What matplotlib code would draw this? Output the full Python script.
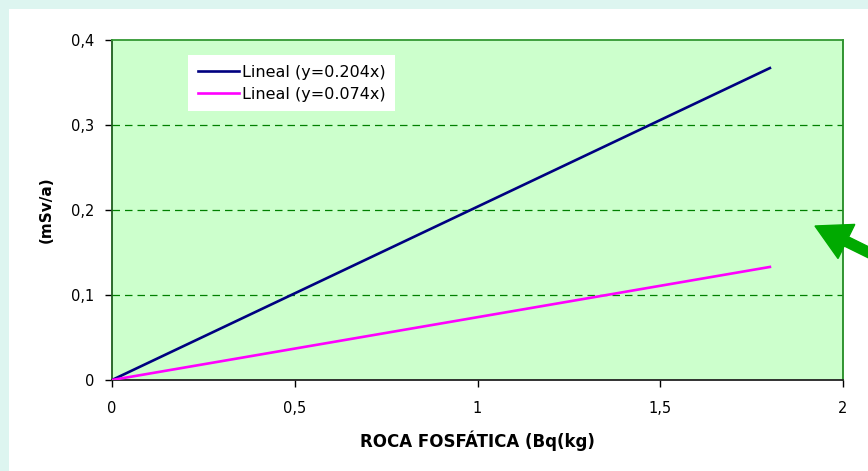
import matplotlib
matplotlib.use("Agg")
import matplotlib.pyplot as plt
from matplotlib.patches import Rectangle, FancyArrow
from matplotlib.ticker import FuncFormatter

plt.rcParams['font.family'] = ['DejaVu Sans']

# data
x_vals = [0, 1.8]
y_alto = [0, 0.367]   # y = 0.204x
y_bajo = [0, 0.133]   # y = 0.074x
etiquetas = ['Lineal (y=0.204x)', 'Lineal (y=0.074x)']
colores = ['#000080', '#FF00FF']

fig = plt.figure(figsize=(8.68, 4.71), dpi=100, facecolor='#DDF5F0')
# white panel behind the chart
fig.add_artist(Rectangle((9, 0), 900, 462, transform=None,
                         facecolor='white', edgecolor='none', zorder=0))

ax = fig.add_axes([112 / 868, 1 - 380 / 471, 731 / 868, 340 / 471])
ax.set_facecolor('#CCFFCC')

ax.plot(x_vals, y_alto, color=colores[0], lw=1.9, label=etiquetas[0], zorder=3)
ax.plot(x_vals, y_bajo, color=colores[1], lw=1.9, label=etiquetas[1], zorder=3)

ax.set_xlim(0, 2)
ax.set_ylim(0, 0.4)
ax.set_xticks([0, 0.5, 1, 1.5, 2])
ax.set_yticks([0, 0.1, 0.2, 0.3, 0.4])
coma = FuncFormatter(lambda v, p: ('%g' % round(v, 2)).replace('.', ','))
ax.xaxis.set_major_formatter(coma)
ax.yaxis.set_major_formatter(coma)
ax.tick_params(direction='out', length=5, width=1, labelsize=10.5, colors='black', pad=8)
ax.tick_params(axis='x', pad=10)

for yv in [0.1, 0.2, 0.3]:
    ax.axhline(yv, color='#008000', lw=0.9, dashes=(6, 4), zorder=1)

ax.spines['left'].set_color('#1f5f1f')
ax.spines['top'].set_color('#339933')
ax.spines['right'].set_color('#228B22')
ax.spines['bottom'].set_color('#222222')
for s in ax.spines.values():
    s.set_linewidth(1.3)

ax.set_xlabel('ROCA FOSFÁTICA (Bq(kg)', fontsize=12, fontweight='bold')
ax.set_ylabel('(mSv/a)', fontsize=11, fontweight='bold')
ax.xaxis.set_label_coords(0.5, -0.148)
ax.yaxis.set_label_coords(-0.08, 0.5)

leg = ax.legend(loc='upper left', bbox_to_anchor=(76 / 731, 1 - 15 / 340),
                frameon=True, fancybox=False, framealpha=1, edgecolor='none',
                facecolor='white', fontsize=11.5, handlelength=2.6,
                handletextpad=0.15, borderaxespad=0, borderpad=0.6,
                labelspacing=0.45)

# green arrow on the right side
fig.add_artist(FancyArrow(882, 212, -67, 33, width=10, head_width=38,
                          head_length=35, length_includes_head=True,
                          transform=None, color='#00AA00', zorder=5))

fig.savefig('out.png', dpi=100, facecolor=fig.get_facecolor())
